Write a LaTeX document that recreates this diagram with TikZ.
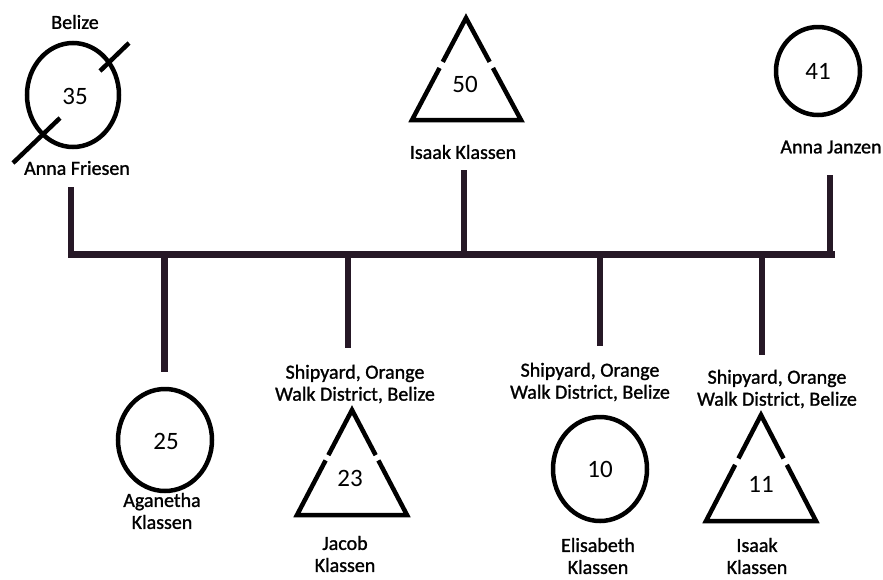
\documentclass[tikz,border=0pt]{standalone}
\usepackage{fontspec}
\setmainfont[FakeBold=1.2]{Carlito}
\newfontfamily\numfont{Carlito}
\usetikzlibrary{shapes.geometric,calc}
\definecolor{barcol}{RGB}{38,24,38}
\begin{document}
\begin{tikzpicture}[x=1pt,y=-1pt,
  lbl/.style={font=\fontsize{20}{22}\selectfont, align=center, inner sep=0pt},
  num/.style={font=\numfont\fontsize{25}{28}\selectfont, inner sep=0pt},
  fem/.style={draw, ellipse, line width=4.5pt, inner sep=0pt},
  thick line/.style={line width=6.5pt, draw=barcol},
  tri/.style={line width=4.5pt, line join=miter}
]
\useasboundingbox (0,0) rectangle (883,579);

% ---------- generation 1 ----------
\node[fem, minimum width=92pt, minimum height=104pt] (c35) at (73,95) {};
\node[num] (n35) at (75,96) {35};
\node[lbl] (belize) at (75,22) {Belize};
\node[lbl] (afriesen) at (77,168) {Anna Friesen};
\coordinate (s1a) at (13,163);
\coordinate (s1b) at (60,118);
\coordinate (s2a) at (100,71);
\coordinate (s2b) at (129,43);
\draw[line width=4.5pt] (s1a) -- (s1b);
\draw[line width=4.5pt] (s2a) -- (s2b);

% triangle 50
\coordinate (t50a) at (466,18);
\coordinate (t50l) at (412,120);
\coordinate (t50r) at (521,120);
\draw[tri] ($(t50a)!0.43!(t50l)$) -- (t50a) -- ($(t50a)!0.43!(t50r)$);
\draw[tri] ($(t50a)!0.49!(t50l)$) -- (t50l) -- (t50r) -- ($(t50a)!0.49!(t50r)$);
\node[num] (n50) at (465,84) {50};
\node[lbl] (iklassen1) at (463,152) {Isaak Klassen};

% circle 41
\node[fem, minimum width=84pt, minimum height=88pt] (c41) at (818,71) {};
\node[num] (n41) at (818,71) {41};
\node[lbl] (ajanzen) at (831,147) {Anna Janzen};

% ---------- bar ----------
\coordinate (barL) at (68,254.5);
\coordinate (barR) at (835,254.5);
\draw[thick line] (barL) -- (barR);

\coordinate (u1) at (71,187);
\coordinate (u1b) at (71,258);
\coordinate (u2) at (464,170);
\coordinate (u2b) at (464,251);
\coordinate (u3) at (830,175);
\coordinate (u3b) at (830,251);
\draw[thick line] (u1) -- (u1b);
\draw[thick line] (u2) -- (u2b);
\draw[thick line] (u3) -- (u3b);

\coordinate (d1) at (164.5,254);
\coordinate (d1b) at (164.5,372);
\coordinate (d2) at (348,254);
\coordinate (d2b) at (348,348);
\coordinate (d3) at (600,254);
\coordinate (d3b) at (600,346);
\coordinate (d4) at (762,254);
\coordinate (d4b) at (762,355);
\draw[thick line] (d1) -- (d1b);
\draw[thick line] (d2) -- (d2b);
\draw[thick line] (d3) -- (d3b);
\draw[thick line] (d4) -- (d4b);

% ---------- children ----------
% Aganetha
\node[fem, minimum width=94pt, minimum height=102pt] (c25) at (165,440) {};
\node[num] (n25) at (166,441) {25};
\node[lbl] (aganetha) at (162,511) {Aganetha\\Klassen};

% Jacob
\node[lbl] (place2) at (355,384) {Shipyard, Orange\\Walk District, Belize};
\coordinate (t23a) at (352,410);
\coordinate (t23l) at (297,515);
\coordinate (t23r) at (407,515);
\draw[tri] ($(t23a)!0.43!(t23l)$) -- (t23a) -- ($(t23a)!0.43!(t23r)$);
\draw[tri] ($(t23a)!0.48!(t23l)$) -- (t23l) -- (t23r) -- ($(t23a)!0.48!(t23r)$);
\node[num] (n23) at (350,478) {23};
\node[lbl] (jacob) at (345,554) {Jacob\\Klassen};

% Elisabeth
\node[lbl] (place3) at (590,382) {Shipyard, Orange\\Walk District, Belize};
\node[fem, minimum width=94pt, minimum height=104pt] (c10) at (600,469) {};
\node[num] (n10) at (600,469) {10};
\node[lbl] (elisabeth) at (598,556) {Elisabeth\\Klassen};

% Isaak
\node[lbl] (place4) at (777,389) {Shipyard, Orange\\Walk District, Belize};
\coordinate (t11a) at (761,415);
\coordinate (t11l) at (706,521);
\coordinate (t11r) at (816,521);
\draw[tri] ($(t11a)!0.41!(t11l)$) -- (t11a) -- ($(t11a)!0.41!(t11r)$);
\draw[tri] ($(t11a)!0.47!(t11l)$) -- (t11l) -- (t11r) -- ($(t11a)!0.47!(t11r)$);
\node[num] (n11) at (761,484) {11};
\node[lbl] (isaak2) at (757,556) {Isaak\\Klassen};
\end{tikzpicture}
\end{document}
